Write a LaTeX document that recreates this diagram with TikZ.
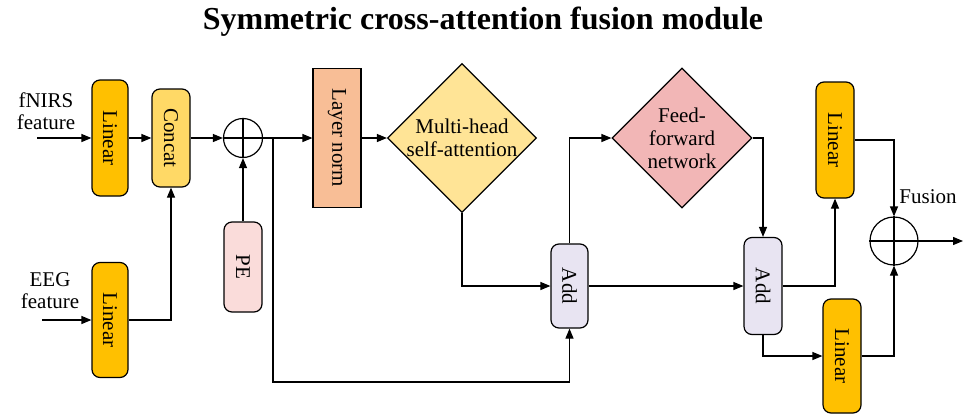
\documentclass[tikz,border=0pt]{standalone}
\usepackage{fontspec}
\setmainfont{Liberation Serif}
\usetikzlibrary{shapes.geometric,arrows.meta}
\definecolor{cLin}{RGB}{255,192,0}
\definecolor{cCat}{RGB}{255,217,102}
\definecolor{cLN}{RGB}{248,190,150}
\definecolor{cMH}{RGB}{255,228,150}
\definecolor{cFF}{RGB}{242,182,182}
\definecolor{cPE}{RGB}{250,220,218}
\definecolor{cAdd}{RGB}{232,228,242}
\begin{document}
\begin{tikzpicture}[x=1pt,y=-1pt,
  every node/.style={font=\fontsize{21}{24}\selectfont},
  rbox/.style={draw,line width=1.2pt,rounded corners=8pt,inner sep=0pt},
  sbox/.style={draw,line width=1.2pt,inner sep=0pt},
  dia/.style={draw,line width=1.2pt,diamond,inner sep=0pt,align=center},
  plusc/.style={draw,line width=1.2pt,circle,inner sep=0pt,fill=white},
  arr/.style={line width=1.2pt,-{Triangle[length=10pt,width=8pt]}},
  ln/.style={line width=1.2pt}]
\useasboundingbox (0,0) rectangle (965,415);
% title
\node[font=\fontsize{32}{36}\selectfont\bfseries] (title) at (483,22) {Symmetric cross-attention fusion module};
% nodes
\node[rbox,fill=cLin,minimum width=36pt,minimum height=116pt] (lin1) at (110,138) {\rotatebox{-90}{Linear}};
\node[rbox,fill=cLin,minimum width=36pt,minimum height=115pt] (lin2) at (110,320) {\rotatebox{-90}{Linear}};
\node[rbox,fill=cCat,minimum width=38pt,minimum height=98pt] (concat) at (171,138) {\rotatebox{-90}{Concat}};
\node[plusc,minimum size=39pt] (p1) at (243,138) {};
\draw[ln] (p1.north) -- (p1.south) (p1.west) -- (p1.east);
\node[rbox,fill=cPE,minimum width=38pt,minimum height=90pt] (pe) at (243,267) {\rotatebox{-90}{PE}};
\node[sbox,fill=cLN,minimum width=48pt,minimum height=139pt] (lnorm) at (337,138) {\rotatebox{-90}{Layer norm}};
\node[dia,fill=cMH,minimum width=149pt,minimum height=149pt] (mhsa) at (462,138) {Multi-head\\[-1pt]self-attention};
\node[rbox,fill=cAdd,minimum width=37pt,minimum height=84pt] (add1) at (569.5,286) {\rotatebox{-90}{Add}};
\node[dia,fill=cFF,minimum width=140pt,minimum height=140pt] (ffn) at (682,138) {Feed-\\[-1pt]forward\\[-1pt]network};
\node[rbox,fill=cAdd,minimum width=38pt,minimum height=97pt] (add2) at (763,286) {\rotatebox{-90}{Add}};
\node[rbox,fill=cLin,minimum width=38pt,minimum height=116pt] (lin3) at (835,140) {\rotatebox{-90}{Linear}};
\node[rbox,fill=cLin,minimum width=38pt,minimum height=114pt] (lin4) at (842,356) {\rotatebox{-90}{Linear}};
\node[plusc,minimum size=48pt] (p2) at (894,241) {};
\draw[ln] (p2.north) -- (p2.south) (p2.west) -- (p2.east);
% labels
\node[align=center] (lf) at (46,111) {fNIRS\\[-2pt]feature};
\node[align=center] (le) at (50,291) {EEG\\[-2pt]feature};
\node (lfu) at (928,197) {Fusion};
% coordinates
\coordinate (fin) at (37,138);
\coordinate (ein) at (42,320);
\coordinate (br) at (273,138);
\coordinate (bl) at (273,382);
\coordinate (out) at (963,241);
% connectors
\draw[arr] (fin) -- (lin1.west);
\draw[arr] (ein) -- (lin2.west);
\draw[arr] (lin1.east) -- (concat.west);
\draw[arr] (lin2.east) -| (concat.south);
\draw[arr] (concat.east) -- (p1.west);
\draw[arr] (pe.north) -- (p1.south);
\draw[arr] (p1.east) -- (lnorm.west);
\draw[arr] (br) -- (bl) -| (add1.south);
\draw[arr] (lnorm.east) -- (mhsa.west);
\draw[arr] (mhsa.south) |- (add1.west);
\draw[arr] (add1.north) |- (ffn.west);
\draw[arr] (ffn.east) -| (add2.north);
\draw[arr] (add1.east) -- (add2.west);
\draw[arr] (add2.east) -| (lin3.south);
\draw[arr] (add2.south) |- (lin4.west);
\draw[arr] (lin3.east) -| (p2.north);
\draw[arr] (lin4.east) -| (p2.south);
\draw[arr] (p2.east) -- (out);
\end{tikzpicture}
\end{document}
